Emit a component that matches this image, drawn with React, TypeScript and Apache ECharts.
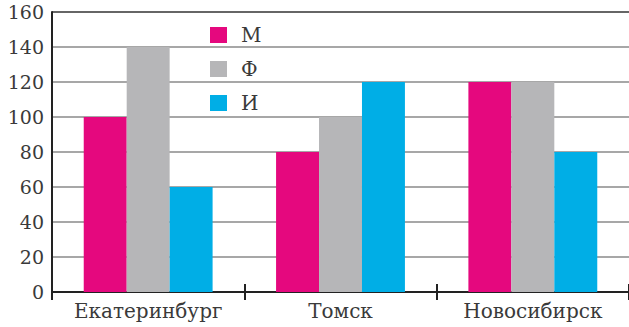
import React, { useEffect, useRef } from "react";
import * as echarts from "echarts";

const categories = ["Екатеринбург", "Томск", "Новосибирск"];
const seriesNames = ["М", "Ф", "И"];
const valuesM = [100, 80, 120];
const valuesF = [140, 100, 120];
const valuesI = [60, 120, 80];
const colors = ["#e5087e", "#b6b6b8", "#00aee6"];

const FONT = "DejaVu Serif";

export default function App() {
  const ref = useRef<HTMLDivElement>(null);
  useEffect(() => {
    if (!ref.current) return;
    const chart = echarts.init(ref.current, null, { renderer: "svg" });
    const data = [valuesM, valuesF, valuesI];
    chart.setOption({
      animation: false,
      backgroundColor: "#ffffff",
      textStyle: { fontFamily: FONT },
      legend: {
        orient: "vertical",
        left: 205,
        top: 20,
        itemWidth: 17,
        itemHeight: 16,
        itemGap: 14,
        icon: "rect",
        textStyle: { fontFamily: FONT, fontSize: 20, color: "#3a3a3a", padding: [0, 0, 0, 9] },
        data: seriesNames,
      },
      grid: { left: 52, top: 12, right: 0, bottom: 35, containLabel: false },
      xAxis: [
        {
          type: "category",
          data: categories,
          axisLine: { lineStyle: { color: "#222", width: 2 } },
          axisTick: { show: true, interval: 0, length: 8, lineStyle: { color: "#222", width: 2 } },
          axisLabel: { interval: 0, fontFamily: FONT, fontSize: 20, color: "#3a3a3a", margin: 9 },
        },
        {
          type: "category",
          data: categories,
          position: "bottom",
          axisLine: { show: false },
          axisTick: { show: true, interval: 0, inside: true, length: 8, lineStyle: { color: "#222", width: 2 } },
          axisLabel: { show: false },
        },
      ],
      yAxis: {
        type: "value",
        min: 0,
        max: 160,
        interval: 20,
        axisLine: { show: true, lineStyle: { color: "#222", width: 2 } },
        axisTick: { show: false },
        axisLabel: { fontFamily: FONT, fontSize: 19, color: "#3a3a3a", margin: 8 },
        splitLine: {
          lineStyle: {
            color: ["#222", "#8a8a8a", "#8a8a8a", "#8a8a8a", "#8a8a8a", "#8a8a8a", "#8a8a8a", "#8a8a8a", "#333"],
            width: 1.5,
          },
        },
      },
      series: seriesNames.map((name, i) => ({
        name,
        type: "bar",
        xAxisIndex: 0,
        data: data[i],
        barGap: "0%",
        barCategoryGap: "33%",
        itemStyle: { color: colors[i] },
      })),
    });
    return () => chart.dispose();
  }, []);
  return <div ref={ref} style={{ width: 629, height: 327, position: "absolute", left: 0, top: 0 }} />;
}
